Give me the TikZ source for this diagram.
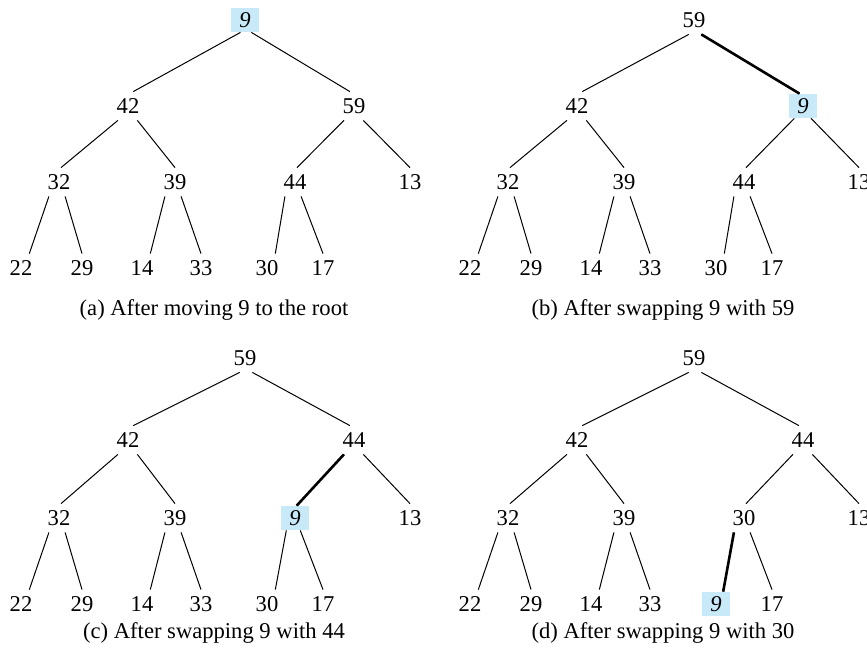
\documentclass[tikz,border=0pt]{standalone}
\usepackage{fontspec}
\setmainfont{Liberation Serif}
\usepackage{tikz}
\usepackage{xcolor}
\definecolor{hotblue}{RGB}{199,233,248}

\tikzset{
    num/.style={font=\fontsize{11.3}{13}\selectfont, inner sep=0pt,
        minimum width=11pt, minimum height=14pt},
    hot/.style={num, fill=hotblue, font=\fontsize{11.3}{13}\selectfont\itshape,
        minimum width=14pt, minimum height=12pt},
    edge/.style={line width=0.5pt},
    hotedge/.style={line width=1.3pt},
    caption/.style={font=\fontsize{11.3}{13}\selectfont, inner sep=0pt}
}

\begin{document}
\begin{tikzpicture}[x=0.5pt,y=-0.5pt]
        \useasboundingbox (0,0) rectangle (867,653);

        % (a) 9 at the root
        \node[hot] (a1) at (245,20) {9};
        \foreach \i/\x/\y/\t in {2/128/106/42, 3/354/106/59, 4/59/182/32,
            5/175/182/39, 6/295/182/44, 7/410/182/13, 8/21/268/22, 9/82/268/29,
            10/142/268/14, 11/201/268/33, 12/267/268/30, 13/323/268/17}
            \node[num] (a\i) at (\x,\y) {\t};
        \node[caption] (capa) at (214,310) {(a) After moving 9 to the root};

        % (b)
        \begin{scope}[shift={(449,0)}]
        \node[hot] (b3) at (354,106) {9};
        \foreach \i/\x/\y/\t in {1/245/20/59, 2/128/106/42, 4/59/182/32,
            5/175/182/39, 6/295/182/44, 7/410/182/13, 8/21/268/22, 9/82/268/29,
            10/142/268/14, 11/201/268/33, 12/267/268/30, 13/323/268/17}
            \node[num] (b\i) at (\x,\y) {\t};
        \node[caption] (capb) at (214,310) {(b) After swapping 9 with 59};
        \end{scope}

        % (c)
        \begin{scope}[shift={(0,336)}]
        \node[hot] (c6) at (295,182) {9};
        \foreach \i/\x/\y/\t in {1/245/22/59, 2/128/104/42, 3/354/104/44,
            4/59/182/32, 5/175/182/39, 7/410/182/13, 8/21/268/22, 9/82/268/29,
            10/142/268/14, 11/201/268/33, 12/267/268/30, 13/323/268/17}
            \node[num] (c\i) at (\x,\y) {\t};
        \node[caption] (capc) at (214,297) {(c) After swapping 9 with 44};
        \end{scope}

        % (d)
        \begin{scope}[shift={(449,336)}]
        \node[hot] (d12) at (267,268) {9};
        \foreach \i/\x/\y/\t in {1/245/22/59, 2/128/104/42, 3/354/104/44,
            4/59/182/32, 5/175/182/39, 6/295/182/30, 7/410/182/13, 8/21/268/22,
            9/82/268/29, 10/142/268/14, 11/201/268/33, 13/323/268/17}
            \node[num] (d\i) at (\x,\y) {\t};
        \node[caption] (capd) at (214,297) {(d) After swapping 9 with 30};
        \end{scope}

        % parent/child, with the border angles the lines leave and enter at
        \foreach \p in {a,b,c,d}
            \foreach \u/\v/\s/\e in {1/2/-110/70, 1/3/-63/106,
                2/4/-125/82, 2/5/-57/90, 3/6/-125/82, 3/7/-57/90,
                4/8/-125/60, 4/9/-67/90, 5/10/-125/60, 5/11/-67/90,
                6/12/-125/60, 6/13/-67/90}
                \draw[edge] (\p\u.\s) -- (\p\v.\e);

        % the swapped path
        \draw[hotedge] (b1.-63) -- (b3.106);
        \draw[hotedge] (c3.-125) -- (c6.82);
        \draw[hotedge] (d6.-125) -- (d12.60);
    \end{tikzpicture}
\end{document}
